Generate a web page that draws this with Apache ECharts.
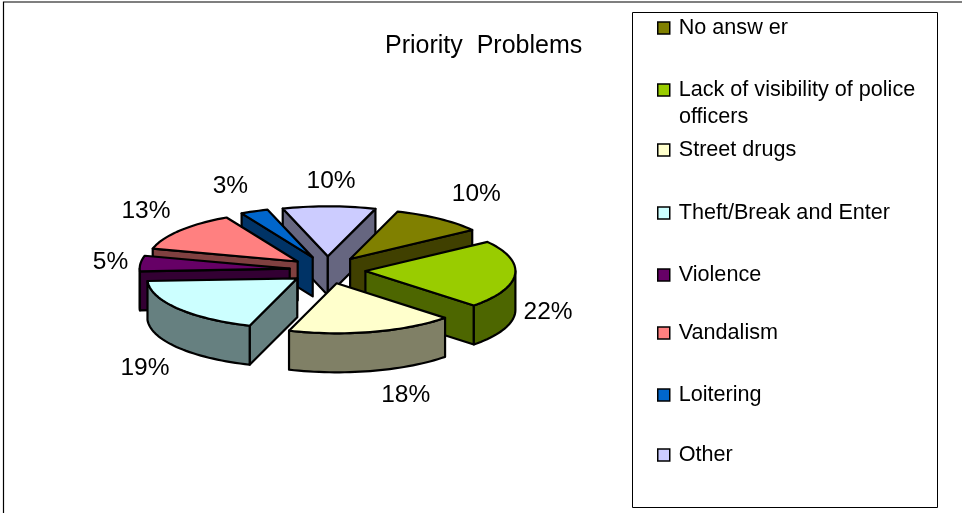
<!DOCTYPE html>
<html>
<head>
<meta charset="utf-8">
<style>html,body{margin:0;padding:0;background:#fff}#c{width:962px;height:513px}</style>
<script src="https://cdn.jsdelivr.net/npm/echarts@6/dist/echarts.min.js"></script>
</head>
<body>
<div id="c"></div>
<script>
const categories = ['No answer','Lack of visibility of police officers','Street drugs','Theft/Break and Enter','Violence','Vandalism','Loitering','Other'];
const legendLabels = ['No answ er','Lack of visibility of police','Street drugs','Theft/Break and Enter','Violence','Vandalism','Loitering','Other'];
const values = [10,22,18,19,5,13,3,10];
const topColors = ['#808000','#99CC00','#FFFFCC','#CCFFFF','#660066','#FF8080','#0066CC','#CCCCFF'];
const sideColors = ['#404000','#4D6600','#808066','#668080','#330033','#804040','#003366','#666680'];
// back-to-front painting order
const paintOrder = [7,0,6,5,4,1,2,3];
// label offset from each slice's outer arc midpoint
const labelOffsets = [[37,-25],[33,38],[33,63],[-33,60],[-30,-1],[-34,-19],[-24,-25],[2,-25]];
const legendTops = [28,90,150,213,275,333,395,455];

const CX=327.5, CY=270, A=150, B=50, DEPTH=39, EX=38, EY=13.7, START=18.5;
const total = values.reduce((a,b)=>a+b,0);
const rad = d=>d*Math.PI/180;
let cum = START;
const spans = values.map(v=>{const s=cum; cum+=v/total*360; return [s,cum];});

function arcPts(o,t1,t2,dy){
  const pts=[], n=Math.max(2,Math.ceil((t2-t1)/2));
  for(let k=0;k<=n;k++){
    const t=rad(t1+(t2-t1)*k/n);
    pts.push([o[0]+A*Math.sin(t), o[1]-B*Math.cos(t)+dy]);
  }
  return pts;
}
const stroke={stroke:'#000',lineWidth:2.2,lineJoin:'round'};
function renderSlice(i,api){
  const [t1,t2]=spans[i], mid=(t1+t2)/2, m=rad(mid);
  const o=[CX+EX*Math.sin(m), CY-EY*Math.cos(m)];
  const kids=[], side=sideColors[i];
  const face=(pts)=>kids.push({type:'polygon',shape:{points:pts},style:Object.assign({fill:side},stroke)});
  const cut=(t)=>{
    const p=[o[0]+A*Math.sin(rad(t)),o[1]-B*Math.cos(rad(t))];
    face([o,p,[p[0],p[1]+DEPTH],[o[0],o[1]+DEPTH]]);
  };
  if(Math.sin(rad(t1))<0) cut(t1);
  if(Math.sin(rad(t2))>0) cut(t2);
  const w1=Math.max(t1,90), w2=Math.min(t2,270);
  if(w2>w1){
    const up=arcPts(o,w1,w2,0), dn=arcPts(o,w1,w2,DEPTH).reverse();
    face(up.concat(dn));
  }
  kids.push({type:'polygon',shape:{points:[o].concat(arcPts(o,t1,t2,0))},
    style:Object.assign({fill:topColors[i]},stroke)});
  const off=labelOffsets[i];
  kids.push({type:'text',x:CX+(A+EX)*Math.sin(m)+off[0],y:CY-(B+EY)*Math.cos(m)+off[1],
    style:{text:api.value(0)+'%',fill:'#000',font:'24.5px "Liberation Sans"',align:'center',verticalAlign:'middle'}});
  return {type:'group',children:kids};
}

const chart=echarts.init(document.getElementById('c'),null,{renderer:'canvas'});
chart.setOption({
  animation:false,
  backgroundColor:'#fff',
  title:{text:'Priority  Problems',left:385,top:34,padding:0,
    textStyle:{fontFamily:'Liberation Sans',fontSize:25,fontWeight:'normal',color:'#000'}},
  legend:categories.map((c,i)=>({
    data:[c],orient:'vertical',left:657,top:legendTops[i]-14,padding:0,
    icon:'rect',itemWidth:12,itemHeight:12,selectedMode:false,
    formatter:()=>legendLabels[i],
    itemStyle:{color:topColors[i],borderColor:'#000',borderWidth:1.5},
    textStyle:{fontFamily:'Liberation Sans',fontSize:21.6,color:'#000',padding:[0,0,0,4],height:28,lineHeight:28}
  })),
  graphic:[
    {type:'polyline',silent:true,shape:{points:[[3.5,513],[3.5,2],[962,2]]},style:{fill:'none',stroke:'#000',lineWidth:1.2}},
    {type:'rect',silent:true,shape:{x:632.5,y:12.5,width:305,height:495},style:{fill:'#fff',stroke:'#000',lineWidth:1},z:-1},
    {type:'text',silent:true,x:679,y:117,style:{text:'officers',fill:'#000',font:'21.6px "Liberation Sans"',verticalAlign:'middle'}}
  ],
  series:paintOrder.map(i=>({
    type:'custom',name:categories[i],coordinateSystem:'none',silent:true,
    itemStyle:{color:topColors[i]},
    data:[[values[i]]],
    renderItem:(p,api)=>renderSlice(i,api)
  }))
});
</script>
</body>
</html>
